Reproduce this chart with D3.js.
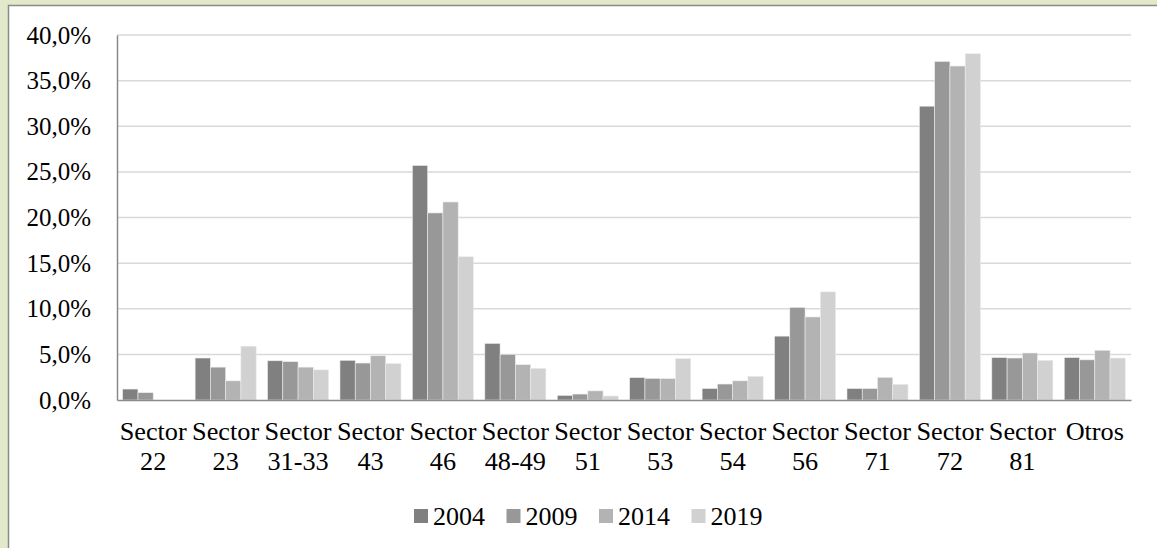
<!DOCTYPE html>
<html>
<head>
<meta charset="utf-8">
<script src="https://cdn.jsdelivr.net/npm/d3@7"></script>
<style>
  body { margin: 0; background: #e2e8ca; overflow: hidden; }
  svg { display: block; }
  text { font-family: "Liberation Serif", "Times New Roman", serif; fill: #000; }
</style>
</head>
<body>
<svg id="chart" width="1157" height="548"></svg>
<script>
// categorias y series
var sectores = ["Sector 22", "Sector 23", "Sector 31-33", "Sector 43", "Sector 46", "Sector 48-49", "Sector 51",
                "Sector 53", "Sector 54", "Sector 56", "Sector 71", "Sector 72", "Sector 81", "Otros"];
var anios = ["2004", "2009", "2014", "2019"];
var v2004 = [1.2, 4.6, 4.3, 4.35, 25.7, 6.2, 0.5, 2.45, 1.25, 7.0, 1.25, 32.2, 4.65, 4.65];
var v2009 = [0.8, 3.6, 4.2, 4.05, 20.5, 5.0, 0.65, 2.37, 1.75, 10.15, 1.25, 37.1, 4.6, 4.4];
var v2014 = [0, 2.1, 3.6, 4.85, 21.7, 3.87, 1.0, 2.34, 2.1, 9.1, 2.48, 36.6, 5.15, 5.45];
var v2019 = [0, 5.9, 3.3, 3.98, 15.7, 3.47, 0.44, 4.53, 2.6, 11.85, 1.72, 37.95, 4.35, 4.6];
var series = [v2004, v2009, v2014, v2019];
var yTicks = [0, 5, 10, 15, 20, 25, 30, 35, 40];
var colores = ["#808080", "#989898", "#b3b3b3", "#d1d1d1"];

var svg = d3.select("#chart");

// panel blanco
svg.append("rect")
    .attr("x", 8.5).attr("y", 5.5)
    .attr("width", 1160).attr("height", 560)
    .attr("fill", "#fff")
    .attr("stroke", "#8a8a8a")
    .attr("stroke-width", 1.5);

var mLeft = 117, mRight = 1131, mTop = 35, mBottom = 400;

var x = d3.scaleBand().domain(sectores).range([mLeft, mRight]);
var gap = x.bandwidth() * 0.157;
var xs = d3.scaleBand().domain(anios).range([gap / 2, x.bandwidth() - gap / 2]);
var y = d3.scaleLinear().domain([0, 40]).range([mBottom, mTop]);

// rejilla
svg.append("g").selectAll("line")
    .data(yTicks.filter(d => d > 0))
    .enter().append("line")
    .attr("x1", mLeft).attr("x2", mRight)
    .attr("y1", d => y(d)).attr("y2", d => y(d))
    .attr("stroke", "#d9d9d9")
    .attr("stroke-width", 1.5);

// barras
anios.forEach(function(a, j) {
    svg.append("g").selectAll("rect")
        .data(series[j])
        .enter().append("rect")
        .attr("x", (d, i) => x(sectores[i]) + xs(a))
        .attr("y", d => y(d))
        .attr("width", xs.bandwidth())
        .attr("height", d => mBottom - y(d))
        .attr("fill", colores[j])
        .attr("stroke", "#ececec")
        .attr("stroke-width", 0.6);
});

// eje y
var yAxis = svg.append("g")
    .attr("transform", "translate(" + mLeft + ",0)")
    .call(d3.axisLeft(y).tickValues(yTicks).tickSize(0).tickPadding(26)
        .tickFormat(d => d3.format(".1f")(d).replace(".", ",") + "%"));
yAxis.select(".domain").attr("stroke", "#8a8a8a").attr("stroke-width", 1.5);
yAxis.selectAll("text").attr("font-size", 25).attr("font-family", "Liberation Serif").attr("fill", "#000");

// eje x
var xAxis = svg.append("g")
    .attr("transform", "translate(0," + mBottom + ")")
    .call(d3.axisBottom(x).tickSize(0).tickFormat(""));
xAxis.select(".domain").attr("stroke", "#8a8a8a").attr("stroke-width", 1.5);

var lab = svg.append("g").selectAll("text")
    .data(sectores)
    .enter().append("text")
    .attr("transform", d => "translate(" + (x(d) + x.bandwidth() / 2) + ",440) scale(1.05,1)")
    .attr("text-anchor", "middle")
    .attr("font-size", 25);
lab.each(function(d) {
    var partes = d.split(" ");
    var t = d3.select(this);
    t.append("tspan").attr("x", 0).text(partes[0]);
    if (partes.length > 1)
        t.append("tspan").attr("x", 0).attr("dy", 30).text(partes[1]);
});

// leyenda
var ley = svg.append("g").selectAll("g")
    .data(anios)
    .enter().append("g")
    .attr("transform", (d, i) => "translate(" + (414 + i * 92.5) + ",509)");
ley.append("rect")
    .attr("width", 14).attr("height", 14)
    .attr("fill", (d, i) => colores[i]);
ley.append("text")
    .attr("x", 19).attr("y", 16)
    .attr("font-size", 26)
    .text(d => d);
</script>
</body>
</html>
